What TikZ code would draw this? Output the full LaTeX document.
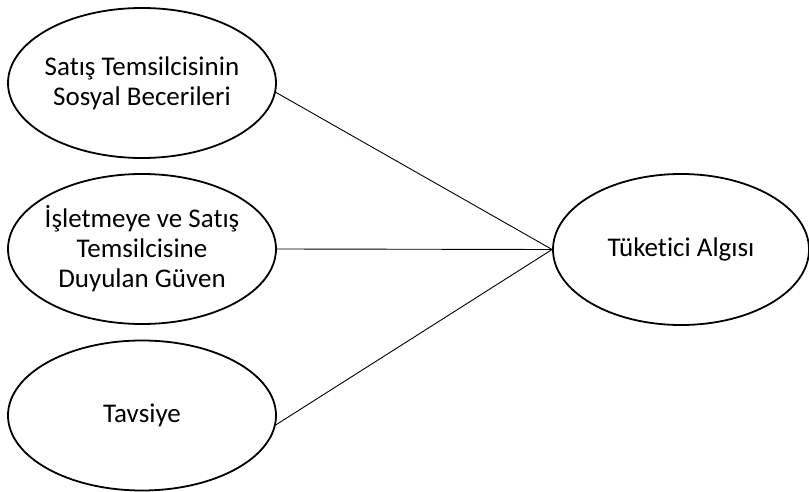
\documentclass[tikz,border=0pt]{standalone}
\usepackage{fontspec}
\setmainfont{Carlito}[Ligatures=NoCommon]
\usetikzlibrary{shapes.geometric,positioning}

\begin{document}
\begin{tikzpicture}[x=1pt, y=-1pt,
  oval/.style={ellipse, draw, line width=1.8pt, inner xsep=-40pt, inner ysep=-30pt,
    minimum width=268pt, minimum height=150pt, align=center,
    font=\fontsize{27}{30}\selectfont},
  link/.style={line width=0.9pt}]
  \useasboundingbox (0,0) rectangle (809,492);
  \node (sosyal) [oval] at (142,83) {Satış Temsilcisinin\\Sosyal Becerileri};
  \node (guven) [oval] at (142,249) {İşletmeye ve Satış\\Temsilcisine\\Duyulan Güven};
  \node (tavsiye) [oval] at (142,415.5) {Tavsiye};
  \node (algi) [oval, minimum width=256pt, minimum height=151pt] at (681,249.5) {Tüketici Algısı};
  \draw[link] (sosyal.-4) -- (algi.west);
  \draw[link] (guven.east) -- (algi.west);
  \draw[link] (tavsiye.-4) -- (algi.west);
\end{tikzpicture}
\end{document}
